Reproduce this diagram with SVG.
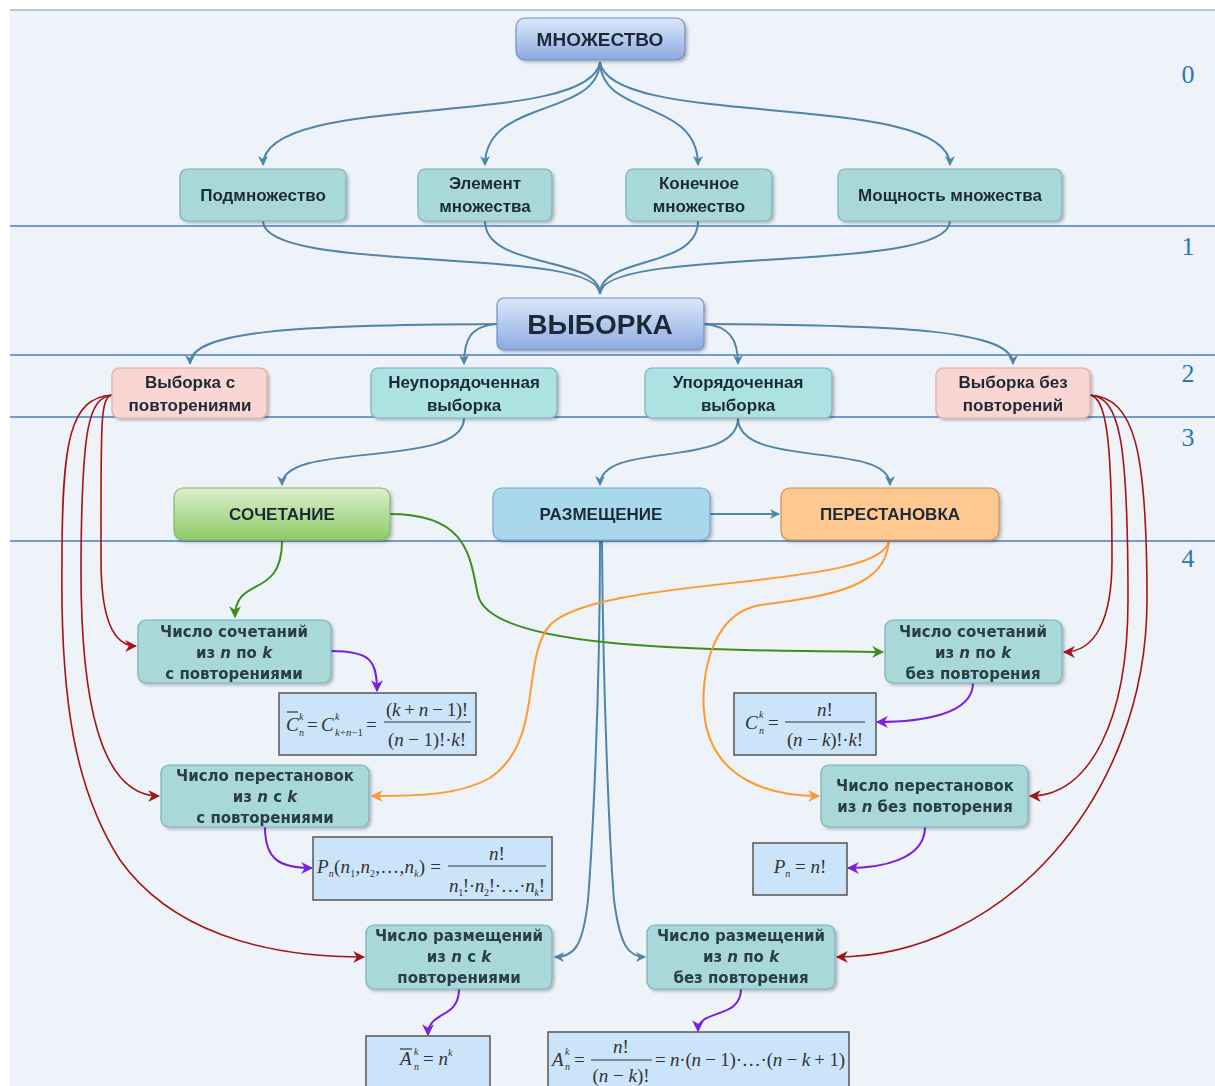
<svg xmlns="http://www.w3.org/2000/svg" width="1215" height="1086" viewBox="0 0 1215 1086">
<defs>
<style>
.t{font-family:"Liberation Sans",Arial,sans-serif;font-weight:bold;fill:#1e2b38;text-anchor:middle}
.t1{font-size:17px}
.tb{font-family:"DejaVu Sans",Verdana,sans-serif;font-weight:bold;font-size:15px;fill:#2a3d48;text-anchor:middle}
.i{font-style:italic}
.teal{fill:#a8d8d8;stroke:#79b0ba;stroke-width:1.2}
.teal2{fill:#ace2e2;stroke:#79b0ba;stroke-width:1.2}
.pink{fill:#f9d6d1;stroke:#e3a79f;stroke-width:1.2}
.fbox{fill:#cce4fa;stroke:#555;stroke-width:1.5}
.hl{stroke:#4a7ebb;stroke-width:1.5}
.num{font-family:"Liberation Serif","Times New Roman",serif;font-size:26px;fill:#2e75b6;text-anchor:middle}
.c{fill:none;stroke-width:2}
.cb{stroke:#4f85a6}
.cg{stroke:#3e8e1e}
.co{stroke:#ff9a2e}
.cp{stroke:#7a1fe0}
.cr{stroke:#a31515;stroke-width:1.6}
.m{font-family:"Liberation Serif","Times New Roman",serif;font-size:19px;fill:#333}
.ms{font-size:10px}
.fl{stroke:#333;stroke-width:1.2}
</style>
<filter id="sh" x="-10%" y="-10%" width="130%" height="140%">
<feDropShadow dx="2" dy="2" stdDeviation="1.5" flood-color="#000" flood-opacity="0.25"/>
</filter>
<linearGradient id="gBlue" x1="0" y1="0" x2="0" y2="1">
<stop offset="0" stop-color="#dce8fa"/><stop offset="1" stop-color="#8caae0"/>
</linearGradient>
<linearGradient id="gGreen" x1="0" y1="0" x2="0" y2="1">
<stop offset="0" stop-color="#dcefcf"/><stop offset="1" stop-color="#8ccb66"/>
</linearGradient>
<marker id="ab" viewBox="0 0 10 10" refX="9" refY="5" markerWidth="10" markerHeight="10" markerUnits="userSpaceOnUse" orient="auto"><path d="M0,0 L10,5 L0,10 L3,5 z" fill="#4f85a6"/></marker>
<marker id="ag" viewBox="0 0 10 10" refX="9" refY="5" markerWidth="12" markerHeight="12" markerUnits="userSpaceOnUse" orient="auto"><path d="M0,0 L10,5 L0,10 L3,5 z" fill="#3e8e1e"/></marker>
<marker id="ao" viewBox="0 0 10 10" refX="9" refY="5" markerWidth="12" markerHeight="12" markerUnits="userSpaceOnUse" orient="auto"><path d="M0,0 L10,5 L0,10 L3,5 z" fill="#ff9a2e"/></marker>
<marker id="ap" viewBox="0 0 10 10" refX="9" refY="5" markerWidth="12" markerHeight="12" markerUnits="userSpaceOnUse" orient="auto"><path d="M0,0 L10,5 L0,10 L3,5 z" fill="#7a1fe0"/></marker>
<marker id="ar" viewBox="0 0 10 10" refX="9" refY="5" markerWidth="12" markerHeight="12" markerUnits="userSpaceOnUse" orient="auto"><path d="M0,0 L10,5 L0,10 L3,5 z" fill="#a31515"/></marker>
</defs>

<rect x="0" y="0" width="1215" height="1086" fill="#ffffff"/>
<rect x="10" y="10" width="1205" height="1076" fill="#eef3fa"/>
<line x1="10" y1="10" x2="1215" y2="10" stroke="#b8c8dc" stroke-width="2"/>

<g id="levels">
<line class="hl" x1="10" y1="226" x2="1215" y2="226"/>
<line class="hl" x1="10" y1="355" x2="1215" y2="355"/>
<line class="hl" x1="10" y1="417" x2="1215" y2="417"/>
<line class="hl" x1="10" y1="541" x2="1215" y2="541"/>
<text class="num" x="1188" y="83">0</text>
<text class="num" x="1188" y="255">1</text>
<text class="num" x="1188" y="382">2</text>
<text class="num" x="1188" y="446">3</text>
<text class="num" x="1188" y="567">4</text>
</g>

<g id="connectors">
<path class="c cb" d="M600,62 C590,130 263,90 263,165" marker-end="url(#ab)"/>
<path class="c cb" d="M600,62 C598,118 485,98 485,165" marker-end="url(#ab)"/>
<path class="c cb" d="M600,62 C602,118 698,98 698,165" marker-end="url(#ab)"/>
<path class="c cb" d="M600,62 C610,130 950,90 950,165" marker-end="url(#ab)"/>
<path class="c cb" d="M263,221 C263,275 600,245 600,294"/>
<path class="c cb" d="M485,221 C485,270 600,255 600,294"/>
<path class="c cb" d="M698,221 C698,270 600,255 600,294"/>
<path class="c cb" d="M950,221 C950,275 600,245 600,294" marker-end="url(#ab)"/>
<path class="c cb" d="M497,324 C300,325 190,330 190,364" marker-end="url(#ab)"/>
<path class="c cb" d="M497,324 C470,326 464,340 464,364" marker-end="url(#ab)"/>
<path class="c cb" d="M704,324 C730,326 738,340 738,364" marker-end="url(#ab)"/>
<path class="c cb" d="M704,324 C900,325 1013,330 1013,364" marker-end="url(#ab)"/>
<path class="c cb" d="M464,418 C464,470 282,440 282,485" marker-end="url(#ab)"/>
<path class="c cb" d="M738,418 C738,470 600,440 600,485" marker-end="url(#ab)"/>
<path class="c cb" d="M738,418 C738,470 890,440 890,485" marker-end="url(#ab)"/>
<path class="c cb" d="M710,514 L779,514" marker-end="url(#ab)"/>
<path class="c cb" d="M600,541 C600,700 592,850 588,900 C583,945 575,957 555,957" marker-end="url(#ab)"/>
<path class="c cb" d="M602,541 C603,700 610,850 614,900 C620,945 628,957 645,957" marker-end="url(#ab)"/>

<path class="c cg" d="M282,541 C282,600 235,575 235,617" marker-end="url(#ag)"/>
<path class="c cg" d="M390,514 C470,514 470,560 478,595 C490,650 700,650 883,652" marker-end="url(#ag)"/>

<path class="c co" d="M889,541 C880,590 600,575 550,625 C520,660 545,740 490,778 C460,795 420,796 372,796" marker-end="url(#ao)"/>
<path class="c co" d="M889,541 C885,585 840,595 760,605 C705,615 700,690 705,720 C715,780 770,796 819,796" marker-end="url(#ao)"/>

<path class="c cp" d="M331,651 C370,651 377,660 377,691" marker-end="url(#ap)"/>
<path class="c cp" d="M265,827 C265,860 280,868 312,868" marker-end="url(#ap)"/>
<path class="c cp" d="M973,683 C973,715 920,722 877,722" marker-end="url(#ap)"/>
<path class="c cp" d="M925,827 C925,860 880,868 848,868" marker-end="url(#ap)"/>
<path class="c cp" d="M459,989 C459,1020 428,1010 428,1035" marker-end="url(#ap)"/>
<path class="c cp" d="M741,989 C741,1020 698,1008 698,1031" marker-end="url(#ap)"/>

<path class="c cr" d="M112,395 C100,398 101,420 101,560 C101,610 110,646 136,646" marker-end="url(#ar)"/>
<path class="c cr" d="M112,395 C88,398 82,430 81,560 C80,700 100,796 159,796" marker-end="url(#ar)"/>
<path class="c cr" d="M112,395 C70,398 62,440 62,560 C60,700 75,790 120,860 C170,930 260,957 364,957" marker-end="url(#ar)"/>
<path class="c cr" d="M1090,395 C1105,398 1112,430 1112,560 C1112,620 1095,652 1064,652" marker-end="url(#ar)"/>
<path class="c cr" d="M1090,395 C1120,398 1128,440 1128,600 C1128,720 1090,796 1030,796" marker-end="url(#ar)"/>
<path class="c cr" d="M1090,395 C1135,398 1147,450 1147,600 C1147,800 1000,957 837,957" marker-end="url(#ar)"/>
</g>

<g id="n-mnozhestvo" filter="url(#sh)">
<rect x="516" y="18" width="169" height="42" rx="9" fill="url(#gBlue)" stroke="#6f8fc8" stroke-width="1.2"/>
<text class="t" x="600" y="46" font-size="19">МНОЖЕСТВО</text>
</g>
<g id="n-podmn" filter="url(#sh)">
<rect class="teal" x="180" y="169" width="166" height="52" rx="7"/>
<text class="t t1" x="263" y="201">Подмножество</text>
</g>
<g id="n-element" filter="url(#sh)">
<rect class="teal" x="418" y="169" width="134" height="52" rx="7"/>
<text class="t t1" x="485" y="189">Элемент</text>
<text class="t t1" x="485" y="212">множества</text>
</g>
<g id="n-konech" filter="url(#sh)">
<rect class="teal" x="626" y="169" width="146" height="52" rx="7"/>
<text class="t t1" x="699" y="189">Конечное</text>
<text class="t t1" x="699" y="212">множество</text>
</g>
<g id="n-moshch" filter="url(#sh)">
<rect class="teal" x="838" y="169" width="224" height="52" rx="7"/>
<text class="t t1" x="950" y="201">Мощность множества</text>
</g>
<g id="n-vyborka" filter="url(#sh)">
<rect x="497" y="298" width="207" height="52" rx="7" fill="url(#gBlue)" stroke="#6f8fc8" stroke-width="1.2"/>
<text class="t" x="600" y="334" font-size="28">ВЫБОРКА</text>
</g>
<g id="n-vyb-povt" filter="url(#sh)">
<rect class="pink" x="112" y="368" width="155" height="50" rx="7"/>
<text class="t t1" x="190" y="388">Выборка с</text>
<text class="t t1" x="190" y="411">повторениями</text>
</g>
<g id="n-neupor" filter="url(#sh)">
<rect class="teal2" x="371" y="368" width="186" height="50" rx="7"/>
<text class="t t1" x="464" y="388">Неупорядоченная</text>
<text class="t t1" x="464" y="411">выборка</text>
</g>
<g id="n-upor" filter="url(#sh)">
<rect class="teal2" x="645" y="368" width="187" height="50" rx="7"/>
<text class="t t1" x="738" y="388">Упорядоченная</text>
<text class="t t1" x="738" y="411">выборка</text>
</g>
<g id="n-vyb-bez" filter="url(#sh)">
<rect class="pink" x="936" y="368" width="154" height="50" rx="7"/>
<text class="t t1" x="1013" y="388">Выборка без</text>
<text class="t t1" x="1013" y="411">повторений</text>
</g>
<g id="n-sochetanie" filter="url(#sh)">
<rect x="174" y="488" width="216" height="52" rx="9" fill="url(#gGreen)" stroke="#86b86a" stroke-width="1.2"/>
<text class="t t1" x="282" y="520">СОЧЕТАНИЕ</text>
</g>
<g id="n-razmeshchenie" filter="url(#sh)">
<rect x="493" y="488" width="217" height="52" rx="9" fill="#a9d8ec" stroke="#6fa8c8" stroke-width="1.2"/>
<text class="t t1" x="601" y="520">РАЗМЕЩЕНИЕ</text>
</g>
<g id="n-perestanovka" filter="url(#sh)">
<rect x="781" y="488" width="218" height="52" rx="9" fill="#ffc890" stroke="#c98f55" stroke-width="1.2"/>
<text class="t t1" x="890" y="520">ПЕРЕСТАНОВКА</text>
</g>

<g id="n-soch-povt" filter="url(#sh)">
<rect class="teal" x="138" y="620" width="193" height="63" rx="8"/>
<text class="tb" x="234" y="637">Число сочетаний</text>
<text class="tb" x="234" y="658">из <tspan class="i">n</tspan> по <tspan class="i">k</tspan></text>
<text class="tb" x="234" y="679">с повторениями</text>
</g>
<g id="f-soch-povt">
<rect class="fbox" x="279" y="693" width="197" height="62"/>
<text class="m i" x="286" y="731">C</text>
<line class="fl" x1="287" y1="712" x2="298" y2="712"/>
<text class="m ms i" x="299" y="720">k</text>
<text class="m ms i" x="299" y="736">n</text>
<text class="m" x="307" y="731">=</text>
<text class="m i" x="321" y="731">C</text>
<text class="m ms i" x="335" y="720">k</text>
<text class="m ms" x="335" y="736" textLength="28" lengthAdjust="spacingAndGlyphs"><tspan class="i">k</tspan>+<tspan class="i">n</tspan>−1</text>
<text class="m" x="366" y="731">=</text>
<line class="fl" x1="384" y1="722" x2="471" y2="722"/>
<text class="m" x="427" y="716" text-anchor="middle" textLength="82">(<tspan class="i">k</tspan> + <tspan class="i">n</tspan> − 1)!</text>
<text class="m" x="427" y="746" text-anchor="middle" textLength="78">(<tspan class="i">n</tspan> − 1)!·<tspan class="i">k</tspan>!</text>
</g>

<g id="n-perest-povt" filter="url(#sh)">
<rect class="teal" x="161" y="765" width="208" height="62" rx="8"/>
<text class="tb" x="265" y="781">Число перестановок</text>
<text class="tb" x="265" y="802">из <tspan class="i">n</tspan> с <tspan class="i">k</tspan></text>
<text class="tb" x="265" y="823">с повторениями</text>
</g>
<g id="f-perest-povt">
<rect class="fbox" x="313" y="837" width="239" height="63"/>
<text class="m" x="317" y="873" textLength="124"><tspan class="i">P</tspan><tspan class="ms i" dy="4">n</tspan><tspan dy="-4">(</tspan><tspan class="i">n</tspan><tspan class="ms" dy="4">1</tspan><tspan dy="-4">,</tspan><tspan class="i">n</tspan><tspan class="ms" dy="4">2</tspan><tspan dy="-4">,…,</tspan><tspan class="i">n</tspan><tspan class="ms i" dy="4">k</tspan><tspan dy="-4">) =</tspan></text>
<line class="fl" x1="448" y1="866" x2="546" y2="866"/>
<text class="m" x="497" y="860" text-anchor="middle"><tspan class="i">n</tspan>!</text>
<text class="m" x="497" y="892" text-anchor="middle" textLength="96"><tspan class="i">n</tspan><tspan class="ms" dy="4">1</tspan><tspan dy="-4">!·</tspan><tspan class="i">n</tspan><tspan class="ms" dy="4">2</tspan><tspan dy="-4">!·…·</tspan><tspan class="i">n</tspan><tspan class="ms i" dy="4">k</tspan><tspan dy="-4">!</tspan></text>
</g>

<g id="n-soch-bez" filter="url(#sh)">
<rect class="teal" x="885" y="620" width="177" height="63" rx="8"/>
<text class="tb" x="973" y="637">Число сочетаний</text>
<text class="tb" x="973" y="658">из <tspan class="i">n</tspan> по <tspan class="i">k</tspan></text>
<text class="tb" x="973" y="679">без повторения</text>
</g>
<g id="f-soch-bez">
<rect class="fbox" x="734" y="693" width="142" height="62"/>
<text class="m i" x="745" y="729">C</text>
<text class="m ms i" x="759" y="718">k</text>
<text class="m ms i" x="759" y="734">n</text>
<text class="m" x="768" y="729">=</text>
<line class="fl" x1="785" y1="722" x2="865" y2="722"/>
<text class="m" x="825" y="716" text-anchor="middle"><tspan class="i">n</tspan>!</text>
<text class="m" x="825" y="746" text-anchor="middle" textLength="76">(<tspan class="i">n</tspan> − <tspan class="i">k</tspan>)!·<tspan class="i">k</tspan>!</text>
</g>

<g id="n-perest-bez" filter="url(#sh)">
<rect class="teal" x="821" y="765" width="207" height="62" rx="8"/>
<text class="tb" x="925" y="791">Число перестановок</text>
<text class="tb" x="925" y="812">из <tspan class="i">n</tspan> без повторения</text>
</g>
<g id="f-perest-bez">
<rect class="fbox" x="753" y="843" width="94" height="52"/>
<text class="m" x="800" y="873" text-anchor="middle"><tspan class="i">P</tspan><tspan class="ms i" dy="4">n</tspan><tspan dy="-4"> = </tspan><tspan class="i">n</tspan>!</text>
</g>

<g id="n-razm-povt" filter="url(#sh)">
<rect class="teal" x="366" y="925" width="186" height="64" rx="8"/>
<text class="tb" x="459" y="941">Число размещений</text>
<text class="tb" x="459" y="962">из <tspan class="i">n</tspan> с <tspan class="i">k</tspan></text>
<text class="tb" x="459" y="983">повторениями</text>
</g>
<g id="f-razm-povt">
<rect class="fbox" x="366" y="1036" width="124" height="56"/>
<line class="fl" x1="400" y1="1049" x2="412" y2="1049"/>
<text class="m i" x="400" y="1065">A</text>
<text class="m ms i" x="414" y="1055">k</text>
<text class="m ms i" x="414" y="1070">n</text>
<text class="m" x="423" y="1065">= <tspan class="i">n</tspan><tspan class="ms i" dy="-9">k</tspan></text>
</g>

<g id="n-razm-bez" filter="url(#sh)">
<rect class="teal" x="647" y="925" width="188" height="64" rx="8"/>
<text class="tb" x="741" y="941">Число размещений</text>
<text class="tb" x="741" y="962">из <tspan class="i">n</tspan> по <tspan class="i">k</tspan></text>
<text class="tb" x="741" y="983">без повторения</text>
</g>
<g id="f-razm-bez">
<rect class="fbox" x="548" y="1032" width="301" height="60"/>
<text class="m i" x="552" y="1066">A</text>
<text class="m ms i" x="565" y="1055">k</text>
<text class="m ms i" x="565" y="1070">n</text>
<text class="m" x="574" y="1066">=</text>
<line class="fl" x1="591" y1="1060" x2="652" y2="1060"/>
<text class="m" x="621" y="1053" text-anchor="middle"><tspan class="i">n</tspan>!</text>
<text class="m" x="621" y="1082" text-anchor="middle">(<tspan class="i">n</tspan> − <tspan class="i">k</tspan>)!</text>
<text class="m" x="655" y="1066" textLength="190">= <tspan class="i">n</tspan>·(<tspan class="i">n</tspan> − 1)·…·(<tspan class="i">n</tspan> − <tspan class="i">k</tspan> + 1)</text>
</g>
</svg>
